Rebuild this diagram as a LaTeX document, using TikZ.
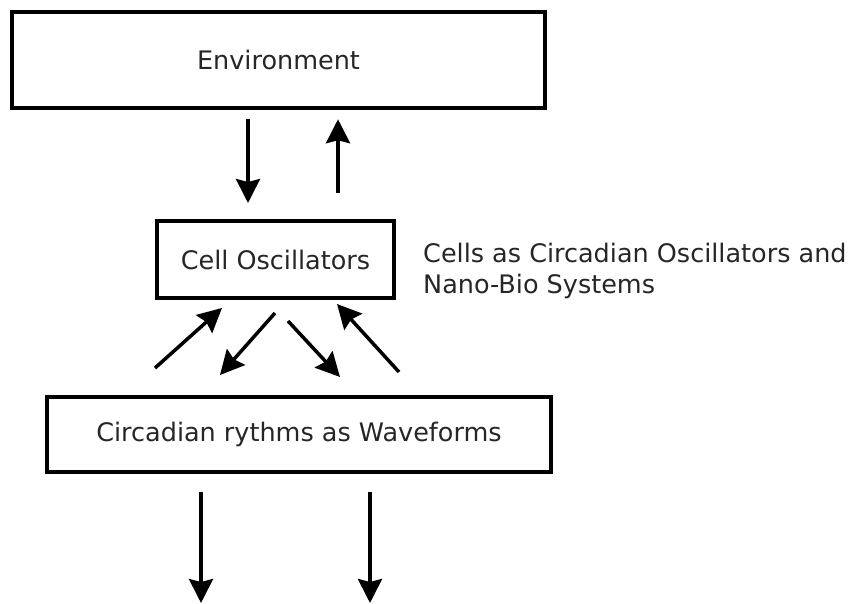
\documentclass[tikz,border=0pt]{standalone}
\usepackage{fontspec}
\setmainfont{DejaVu Sans}
\usetikzlibrary{arrows.meta}
\tikzset{>={Stealth[length=24pt,width=24pt,inset=3pt]}}

\begin{document}
\begin{tikzpicture}[x=1pt, y=-1pt, font=\fontsize{25.5}{31}\selectfont,
box/.style={draw, line width=4pt, inner sep=0pt, text=black!85},
arr/.style={->, line width=3.5pt}]
\useasboundingbox (0,0) rectangle (849,604);
\node[box, line width=4.5pt, minimum width=533pt, minimum height=96pt] (env) at (278.5,60) {Environment};
\node[box, minimum width=237pt, minimum height=77pt] (cell) at (275.5,259.5) {Cell Oscillators};
\node[box, minimum width=504pt, minimum height=75pt] (waves) at (299,434.5) {Circadian rythms as Waveforms};
\node[anchor=north west, align=left, inner sep=0pt, text=black!85] (note) at (423,243)
{Cells as Circadian Oscillators and\\Nano-Bio Systems};

% ends of the arrows
\coordinate (d) at (248,0);
\coordinate (u) at (338,0);
\coordinate (p1) at (155,368); \coordinate (q1) at (222,308);
\coordinate (p2) at (275,313); \coordinate (q2) at (220,375);
\coordinate (p3) at (288,321); \coordinate (q3) at (340,377);
\coordinate (p4) at (399,372); \coordinate (q4) at (337,304);
\coordinate (o1) at (201,604);
\coordinate (o2) at (370,604);

\path[arr]
(d |- env.south) edge[shorten <=9pt, shorten >=16pt] (d |- cell.north)
(u |- cell.north) edge[shorten <=26pt, shorten >=9pt] (u |- env.south)
(p1) edge (q1)
(p2) edge (q2)
(p3) edge (q3)
(p4) edge (q4)
(o1 |- waves.south) edge[shorten <=18pt, shorten >=1pt] (o1)
(o2 |- waves.south) edge[shorten <=18pt, shorten >=1pt] (o2)
;
\end{tikzpicture}
\end{document}
